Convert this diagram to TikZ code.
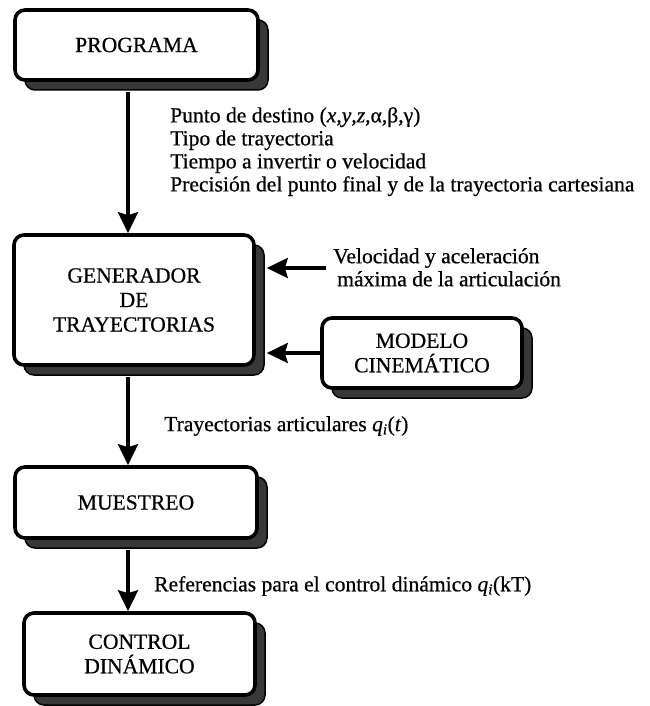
\documentclass[tikz,border=0pt]{standalone}
\usepackage{fontspec}
\setmainfont{Liberation Serif}[FakeBold=0.6]
\usetikzlibrary{arrows.meta,shadows}
\begin{document}
\begin{tikzpicture}[x=1pt,y=-1pt,
  box/.style={draw=black, line width=3.6pt, rounded corners=10pt, fill=white,
    align=center, inner sep=0pt, font=\fontsize{21.6}{24.5}\selectfont,
    general shadow={shadow xshift=10pt, shadow yshift=-10pt, fill=black!78, draw=black, line width=1.5pt}},
  captext/.style={align=left, anchor=north west, inner sep=0pt, font=\fontsize{21.6}{23}\selectfont},
  arr/.style={line width=3.6pt, -{Stealth[length=21pt,width=20pt,inset=3pt]}}]
\useasboundingbox (0,0) rectangle (649,706);

\node[box, minimum width=243pt, minimum height=70pt] (prog) at (136.5,45) {PROGRAMA};
\node[box, minimum width=240pt, minimum height=130pt] (gen) at (134,300) {GENERADOR\\DE\\TRAYECTORIAS};
\node[box, minimum width=200pt, minimum height=70pt] (mod) at (422,353) {MODELO\\CINEMÁTICO};
\node[box, minimum width=242pt, minimum height=71pt] (mue) at (136,502.5) {MUESTREO};
\node[box, minimum width=231pt, minimum height=82pt] (ctl) at (139.5,654) {CONTROL\\DINÁMICO};

\coordinate (ax) at (128,0);
\coordinate (vs) at (326,268);

\node[captext] (c1) at (170,107) {Punto de destino (\textit{x},\textit{y},\textit{z},α,β,γ)\\Tipo de trayectoria\\Tiempo a invertir o velocidad\\Precisión del punto final y de la trayectoria cartesiana};
\node[captext] (c2) at (333,248) {Velocidad y aceleración\\\hspace*{4pt}máxima de la articulación};
\node[captext, anchor=west] (c3) at (164,426) {Trayectorias articulares \textit{q}\textsubscript{\textit{i}}(\textit{t})};
\node[captext, anchor=west] (c4) at (154,586) {Referencias para el control dinámico \textit{q}\textsubscript{\textit{i}}(kT)};

\draw[arr] ([yshift=-10pt]ax |- prog.south) -- (ax |- gen.north);
\draw[arr] ([yshift=-10pt]ax |- gen.south) -- (ax |- mue.north);
\draw[arr] ([yshift=-10pt]ax |- mue.south) -- (ax |- ctl.north);
\draw[arr] (vs) -- ([xshift=11pt]gen.east |- vs);
\draw[arr] (mod.west) -- ([xshift=11pt]gen.east |- mod.west);
\end{tikzpicture}
\end{document}
